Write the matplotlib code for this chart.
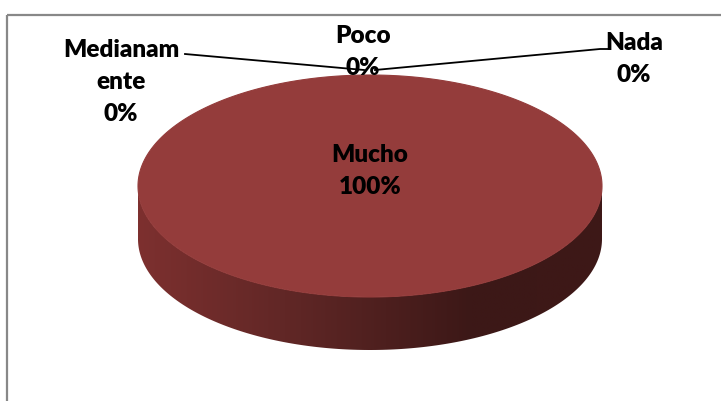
import numpy as np
import matplotlib
matplotlib.use("Agg")
import matplotlib.pyplot as plt
from matplotlib.patches import Polygon, Rectangle
from matplotlib.colors import LinearSegmentedColormap

# survey answers
categories = ["Mucho", "Medianam\nente", "Poco", "Nada"]
values = [100, 0, 0, 0]
pct_labels = ["100%", "0%", "0%", "0%"]

top_color = "#943c3b"
side_cmap = LinearSegmentedColormap.from_list(
    "side", [(0.0, "#7d302f"), (0.35, "#5e2625"), (0.72, "#3c1817"), (1.0, "#3e1817")])

fig = plt.figure(figsize=(7.21, 4.01), dpi=100)
ax = fig.add_axes([0, 0, 1, 1])
ax.set_xlim(0, 721)
ax.set_ylim(401, 0)
ax.axis("off")

# chart border (runs past the right and bottom edge)
ax.add_patch(Rectangle((6.5, 14.5), 760, 420, fill=False, ec="#888888", lw=1.6))

# pie geometry (pixels)
cx, cy, a, b, depth = 370, 186, 232, 111, 53


def ell(theta, dy=0):
    return cx + a * np.cos(theta), cy - b * np.sin(theta) + dy


# side wall: front half of the disc with a horizontal shade
t = np.linspace(np.pi, 2 * np.pi, 200)
xt, yt = ell(t)
xb, yb = ell(t[::-1], depth)
side = Polygon(np.column_stack([np.r_[xt, xb], np.r_[yt, yb]]), closed=True,
               fc="none", ec="none")
ax.add_patch(side)
grad = np.linspace(0, 1, 256).reshape(1, -1)
im = ax.imshow(grad, cmap=side_cmap, aspect="auto",
               extent=(cx - a, cx + a, cy + b + depth, cy - 5), zorder=1)
im.set_clip_path(side)

# top face wedges, clockwise from 12 o'clock
fracs = np.array(values, dtype=float) / sum(values)
starts = np.pi / 2 - 2 * np.pi * np.r_[0, np.cumsum(fracs)[:-1]]
ends = starts - 2 * np.pi * fracs
mids = (starts + ends) / 2
for s, e, f in zip(starts, ends, fracs):
    if f <= 0:
        continue
    th = np.linspace(s, e, 300)
    px, py = ell(th)
    if f < 1:
        px, py = np.r_[cx, px], np.r_[cy, py]
    ax.add_patch(Polygon(np.column_stack([px, py]), closed=True,
                         fc=top_color, ec=top_color, lw=0.8, zorder=2))

font = dict(family=["Lato", "DejaVu Sans"], fontweight="heavy", fontsize=17.5,
            ha="center", va="center", linespacing=1.55, color="black", zorder=4)

# data labels
label_pos = {"Mucho": (370, 171), "Medianam\nente": (121, 82),
             "Poco": (363, 52), "Nada": (634, 59)}
for cat, pct, m in zip(categories, pct_labels, mids):
    lx, ly = label_pos[cat]
    ax.text(lx, ly, cat + "\n" + pct, **font)

# leader lines for the empty slices
ax_, ay_ = ell(mids[1])
ax.plot([185, ax_ - 6], [54, ay_ - 5], color="black", lw=1.3, zorder=3)
ax_, ay_ = ell(mids[3])
ax.plot([ax_ + 5, 600, 609], [ay_ - 5, 49, 49], color="black", lw=1.3, zorder=3)

fig.savefig("out.png", dpi=100)
